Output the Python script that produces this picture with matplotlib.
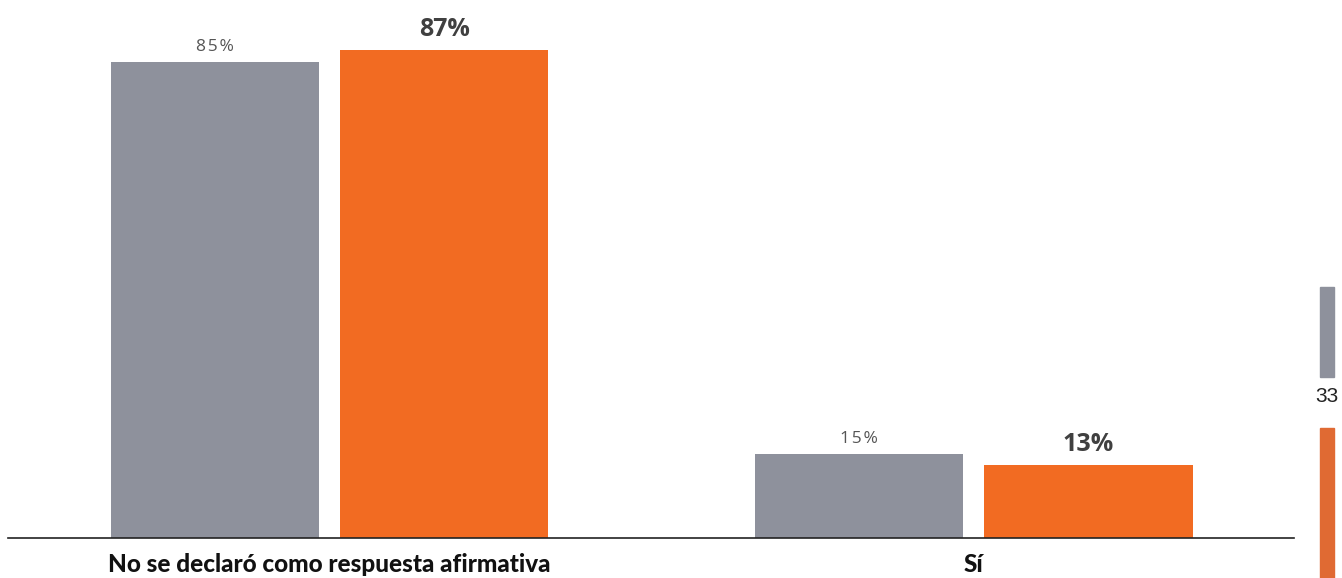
import numpy as np
import matplotlib.pyplot as plt
from matplotlib.patches import Rectangle

categories = ['No se declaró como respuesta afirmativa', 'Sí']
serie_gris = [85, 15]
serie_naranja = [87, 13]
etiquetas_gris = ['85%', '15%']
etiquetas_naranja = ['87%', '13%']

gris = '#8E919C'
naranja = '#F26B22'

fig = plt.figure(figsize=(13.42, 5.78), dpi=100)
ax = fig.add_axes([8/1342, 40/578, 1286/1342, 538/578])

x = np.arange(len(categories))
w = 0.323
off = 0.178
b1 = ax.bar(x - off, serie_gris, w, color=gris)
b2 = ax.bar(x + off, serie_naranja, w, color=naranja)

# etiquetas de valor (la gris con un poco de espaciado entre letras)
for rect, lab in zip(b1, etiquetas_gris):
    ax.annotate('\u200a'.join(lab), (rect.get_x() + rect.get_width()/2, rect.get_height()),
                xytext=(0, 5), textcoords='offset points', ha='center', va='bottom',
                fontsize=12.5, color='#555555', family='Open Sans')
for rect, lab in zip(b2, etiquetas_naranja):
    ax.annotate(lab, (rect.get_x() + rect.get_width()/2, rect.get_height()),
                xytext=(0, 6), textcoords='offset points', ha='center', va='bottom',
                fontsize=18, color='#404040', family='Open Sans', fontweight='bold')

ax.set_xlim(-0.499, 1.497)
ax.set_ylim(0, 96)
ax.set_xticks(x)
ax.set_xticklabels(categories, family='Lato', fontweight='black', fontsize=17.5, color='#111111')
ax.tick_params(axis='x', length=0, pad=11)
ax.set_yticks([])
for s in ['top', 'right', 'left']:
    ax.spines[s].set_visible(False)
ax.spines['bottom'].set_color('#222222')
ax.spines['bottom'].set_linewidth(1.2)

# leyenda recortada en el borde derecho
fig.patches.append(Rectangle((1320/1342, (578-377)/578), 14/1342, 90/578,
                             transform=fig.transFigure, color=gris))
fig.patches.append(Rectangle((1320/1342, 0), 14/1342, 150/578,
                             transform=fig.transFigure, color='#E06A33'))
fig.text(1327/1342, (578-397)/578, '33', ha='center', va='center', fontsize=15,
         color='#222222', family='Liberation Sans')

fig.savefig('out.png', dpi=100)
